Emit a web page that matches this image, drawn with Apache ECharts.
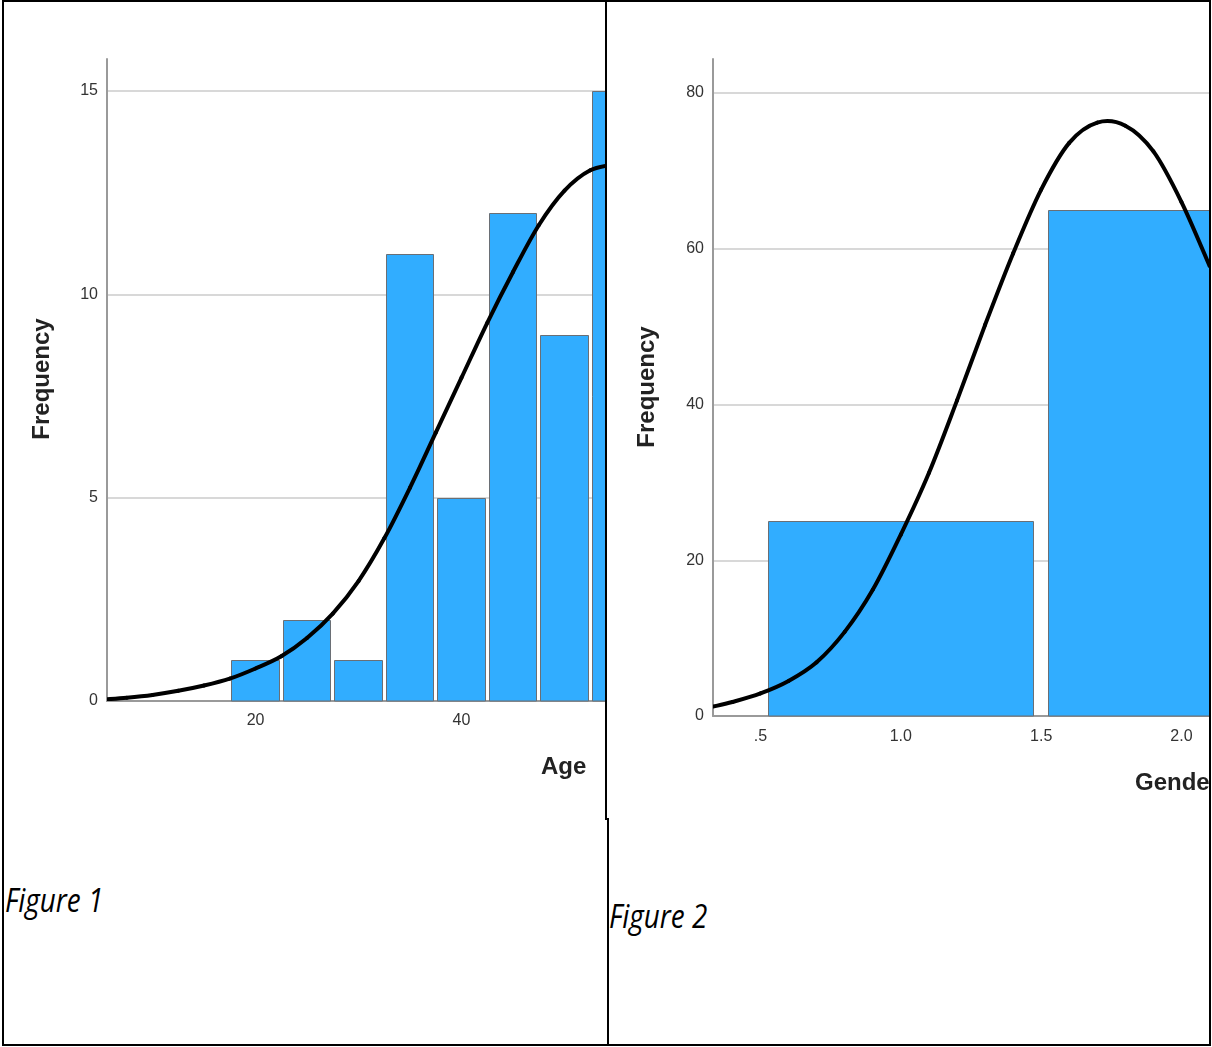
<!DOCTYPE html>
<html>
<head>
<meta charset="utf-8">
<title>Histograms: Age and Gender</title>
<script src="https://cdn.jsdelivr.net/npm/echarts@6.0.0/dist/echarts.min.js"></script>
<style>
  html, body { margin: 0; padding: 0; background: #fff; }
  body { width: 1212px; height: 1047px; position: relative; overflow: hidden; }
  .frame { position: absolute; left: 2px; top: 0; width: 1209px; height: 1046px;
           border: 2px solid #000; box-sizing: border-box; }
  .rule { position: absolute; background: #000; z-index: 5; }
  .chart { position: absolute; }
  .caption { position: absolute; font-family: "Open Sans", "Noto Sans", sans-serif;
             font-style: italic; font-size: 32px; line-height: 32px; color: #000;
             white-space: nowrap; transform-origin: 0 0; transform: scaleX(0.87); }
</style>
</head>
<body>
<div class="frame"></div>
<div id="ageChart" class="chart" style="left:4px;top:2px;width:601px;height:816px"></div>
<div id="genderChart" class="chart" style="left:607px;top:2px;width:602px;height:806px"></div>
<div class="rule" style="left:605px;top:0;width:2px;height:820px"></div>
<div class="rule" style="left:607px;top:818px;width:2px;height:228px"></div>
<div class="caption" style="left:5px;top:884px">Figure 1</div>
<div class="caption" style="left:609px;top:900px">Figure 2</div>

<script>
// ---- Age histogram ----
const ageBinCenters = [20, 25, 30, 35, 40, 45, 50, 55];
const ageCounts = [1, 2, 1, 11, 5, 12, 9, 15];
const ageBinWidth = 5;
const ageXTicks = [20, 40];
const ageYTicks = [0, 5, 10, 15];
// fitted normal curve, sampled along the age axis
const ageCurve = [
  [5.5, 0.04], [7.5, 0.08], [10, 0.15], [12.5, 0.25], [15, 0.38], [17.5, 0.55],
  [20, 0.8], [22.5, 1.1], [25, 1.55], [27.5, 2.15], [30, 2.95], [32.5, 4.0],
  [35, 5.25], [37.5, 6.6], [40, 7.95], [42.5, 9.3], [45, 10.55], [47.5, 11.7],
  [50, 12.55], [52.5, 13.05], [55, 13.2]
];

// ---- Gender histogram ----
const genderBinCenters = [1, 2];
const genderCounts = [25, 65];
const genderBinWidth = 1;
const genderXTicks = [0.5, 1.0, 1.5, 2.0];
const genderXTickLabels = ['.5', '1.0', '1.5', '2.0'];
const genderYTicks = [0, 20, 40, 60, 80];
// fitted normal curve, sampled along the gender axis
const genderCurve = [
  [0.33, 1.2], [0.4, 1.8], [0.5, 2.9], [0.6, 4.5], [0.7, 6.9], [0.8, 10.8],
  [0.9, 16.2], [1.0, 23.3], [1.1, 31.2], [1.2, 40.5], [1.3, 50.2], [1.4, 59.4],
  [1.5, 67.6], [1.6, 73.6], [1.7, 76.2], [1.8, 75.8], [1.9, 72.5], [2.0, 66.0],
  [2.1, 57.8]
];

const FONT = '"Liberation Sans", Arial, sans-serif';
const BAR_FILL = '#31adff';
const BAR_EDGE = '#6a6f75';
const AXIS_GRAY = '#9a9a9a';
const GRID_GRAY = '#d8d8d8';

// Bars: one rectangle per bin, 95% of the bin width filled
function renderBin(params, api) {
  const top = api.coord([api.value(0), api.value(2)]);
  const base = api.coord([api.value(1), 0]);
  const span = base[0] - top[0];
  const inset = span * 0.025;
  const x0 = Math.round(top[0] + inset) + 0.5;
  const x1 = Math.round(base[0] - inset) - 0.5;
  const y0 = Math.round(top[1]) + 0.5;
  const y1 = Math.round(base[1]);
  return {
    type: 'rect',
    shape: { x: x0, y: y0, width: x1 - x0, height: y1 - y0 },
    style: { fill: BAR_FILL, stroke: BAR_EDGE, lineWidth: 1 }
  };
}

// Curve: Catmull-Rom spline through the sampled points, drawn as cubic Bezier segments
function curveRenderer(points) {
  return function (params, api) {
    const i = params.dataIndex;
    if (i >= points.length - 1) return null;
    const p = k => api.coord(points[Math.max(0, Math.min(points.length - 1, k))]);
    const p0 = p(i - 1), p1 = p(i), p2 = p(i + 1), p3 = p(i + 2);
    return {
      type: 'bezierCurve',
      shape: {
        x1: p1[0], y1: p1[1], x2: p2[0], y2: p2[1],
        cpx1: p1[0] + (p2[0] - p0[0]) / 6, cpy1: p1[1] + (p2[1] - p0[1]) / 6,
        cpx2: p2[0] - (p3[0] - p1[0]) / 6, cpy2: p2[1] - (p3[1] - p1[1]) / 6
      },
      style: { stroke: '#000', lineWidth: 4, fill: null, lineCap: 'round' }
    };
  };
}

function histogramOption(cfg) {
  const bins = cfg.centers.map((c, i) => [c - cfg.binWidth / 2, c + cfg.binWidth / 2, cfg.counts[i]]);
  return {
    animation: false,
    grid: cfg.grid,
    xAxis: {
      type: 'value', min: cfg.xMin, max: cfg.xMax,
      axisLine: { show: true, onZero: false, lineStyle: { color: AXIS_GRAY, width: 2 } },
      axisTick: { show: false, customValues: cfg.xTicks },
      axisLabel: {
        customValues: cfg.xTicks, margin: cfg.xLabelMargin,
        fontFamily: FONT, fontSize: 16, color: '#333',
        formatter: cfg.xFormat
      },
      splitLine: { show: false }
    },
    yAxis: {
      type: 'value', min: 0, max: cfg.yMax,
      axisLine: { show: true, lineStyle: { color: AXIS_GRAY, width: 2 } },
      axisTick: { show: false, customValues: cfg.yTicks },
      axisLabel: {
        customValues: cfg.yTicks, margin: 9, padding: [8, 0, 0, 0],
        fontFamily: FONT, fontSize: 16, color: '#333'
      },
      splitLine: { show: true, showMinLine: false, lineStyle: { color: GRID_GRAY, width: 2 } }
    },
    graphic: cfg.titles,
    series: [
      {
        type: 'custom',
        data: bins,
        encode: { x: [0, 1], y: 2 },
        z: 2,
        silent: true,
        renderItem: renderBin
      },
      {
        type: 'custom',
        data: cfg.curve,
        encode: { x: 0, y: 1 },
        z: 3,
        silent: true,
        clip: true,
        renderItem: curveRenderer(cfg.curve)
      }
    ]
  };
}

function titleText(text, x, y, rotated) {
  return {
    type: 'text', x: x, y: y, rotation: rotated ? Math.PI / 2 : 0, silent: true,
    style: {
      text: text, fill: '#222', font: 'bold 24px ' + FONT,
      textAlign: rotated ? 'center' : 'left', textVerticalAlign: 'middle'
    }
  };
}

const ageChart = echarts.init(document.getElementById('ageChart'), null, { renderer: 'canvas' });
ageChart.setOption(histogramOption({
  centers: ageBinCenters, counts: ageCounts, binWidth: ageBinWidth,
  curve: ageCurve, xTicks: ageXTicks, yTicks: ageYTicks,
  xMin: 5.58, xMax: 53.93, yMax: 15.787, xLabelMargin: 12,
  xFormat: v => String(v),
  grid: { left: 103, top: 57, width: 498, height: 642 },
  titles: [titleText('Frequency', 38, 377, true), titleText('Age', 537, 765, false)]
}));

const genderChart = echarts.init(document.getElementById('genderChart'), null, { renderer: 'canvas' });
genderChart.setOption(histogramOption({
  centers: genderBinCenters, counts: genderCounts, binWidth: genderBinWidth,
  curve: genderCurve, xTicks: genderXTicks, yTicks: genderYTicks,
  xMin: 0.3308, xMax: 2.098, yMax: 84.37, xLabelMargin: 13,
  xFormat: v => {
    const i = genderXTicks.findIndex(t => Math.abs(t - v) < 1e-6);
    return i >= 0 ? genderXTickLabels[i] : '';
  },
  grid: { left: 106, top: 57, width: 496, height: 657 },
  titles: [titleText('Frequency', 40, 385, true), titleText('Gender', 528, 781, false)]
}));
</script>
</body>
</html>
